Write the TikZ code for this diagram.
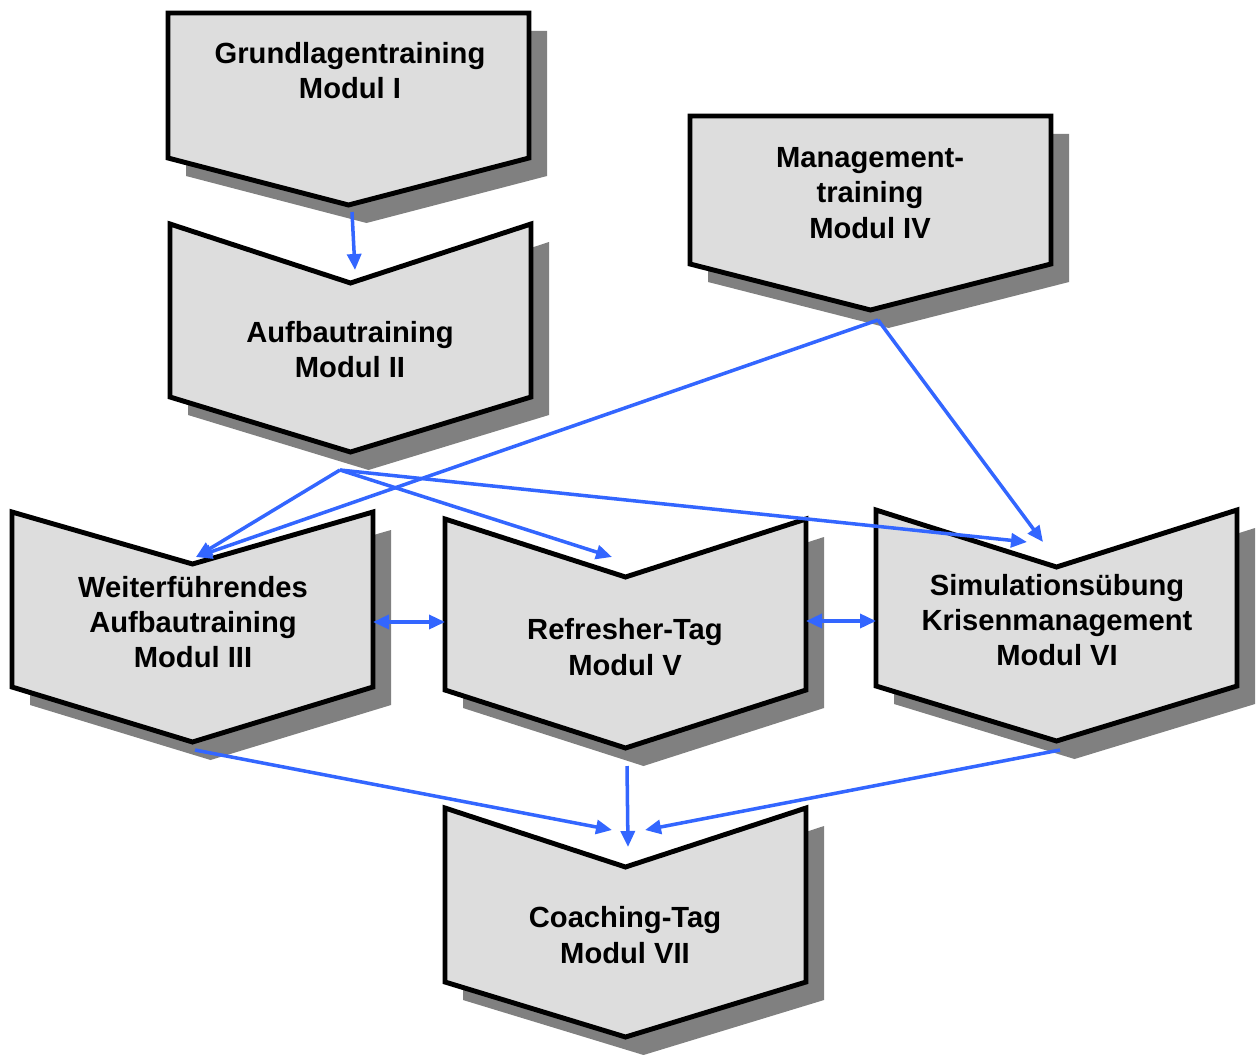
\documentclass[tikz,border=0pt]{standalone}
\usepackage{fontspec}
\setmainfont{Liberation Sans}
\usetikzlibrary{arrows.meta}
\definecolor{linkblue}{RGB}{51,102,255}
\definecolor{boxgray}{RGB}{221,221,221}
\definecolor{shadowgray}{RGB}{128,128,128}
\tikzset{
    modbox/.style={draw=black,line width=2.8pt,fill=boxgray,line join=miter},
    modshadow/.style={fill=shadowgray},
    modtext/.style={align=center,font=\bfseries\fontsize{16.6}{20}\selectfont},
    link/.style={draw=linkblue,line width=2pt,-{Triangle[length=3.2mm,width=2.8mm]}},
    twolink/.style={link,{Triangle[length=3.2mm,width=2.8mm]}-{Triangle[length=3.2mm,width=2.8mm]}},
}
% chevron: left x, top y, notch depth, side height, tip depth
\newcommand{\modpath}[5]{(#1,#2) -- ++(180.5,#3) -- ++(180.5,-#3) -- ++(0,#4) -- ++(-180.5,#5) -- ++(-180.5,-#5) -- cycle}
\newcommand{\modul}[5]{%
    \fill[modshadow,shift={(18,18)}] \modpath{#1}{#2}{#3}{#4}{#5};
    \draw[modbox] \modpath{#1}{#2}{#3}{#4}{#5};
}

\begin{document}
\begin{tikzpicture}[x=0.02cm,y=-0.02cm]
\useasboundingbox (0,0) rectangle (1256,1054);
% boxes
\modul{168}{13}{0}{145}{47}
\modul{170}{224}{59}{173}{55}
\modul{690}{116}{0}{148}{46}
\modul{12}{512}{52}{175}{55}
\modul{445}{519}{58}{171}{58}
\modul{876}{510}{57}{176}{55}
\modul{445}{808}{59}{174}{55}
\node[modtext] (mod1) at (350,71) {Grundlagentraining\\Modul I};
\node[modtext] (mod2) at (350,350) {Aufbautraining\\Modul II};
\node[modtext] (mod4) at (870,193) {Management-\\training\\Modul IV};
\node[modtext] (mod3) at (193,622) {Weiterführendes\\Aufbautraining\\Modul III};
\node[modtext] (mod5) at (625,647) {Refresher-Tag\\Modul V};
\node[modtext] (mod6) at (1057,620) {Simulationsübung\\Krisenmanagement\\Modul VI};
\node[modtext] (mod7) at (625,935) {Coaching-Tag\\Modul VII};
% link ends
\coordinate (mod1out) at (352,212);
\coordinate (mod2in) at (355,270);
\coordinate (mod2hub) at (340,470);
\coordinate (mod4hub) at (878,320);
\coordinate (mod3in) at (196,557);
\coordinate (mod5in) at (612,557);
\coordinate (mod6ina) at (1027,542);
\coordinate (mod6inb) at (1043,542);
\coordinate (mod3right) at (373,622);
\coordinate (mod5left) at (445,622);
\coordinate (mod5right) at (806,621);
\coordinate (mod6left) at (876,621);
\coordinate (mod3out) at (195,750);
\coordinate (mod5out) at (627,766);
\coordinate (mod6out) at (1060,750);
\coordinate (mod7ina) at (612,830);
\coordinate (mod7inb) at (628,847);
\coordinate (mod7inc) at (645,830);
% links
\draw[link] (mod1out) -- (mod2in);
\draw[link] (mod2hub) -- (mod3in);
\draw[link] (mod2hub) -- (mod5in);
\draw[link] (mod2hub) -- (mod6ina);
\draw[link] (mod4hub) -- (mod3in);
\draw[link] (mod4hub) -- (mod6inb);
\draw[twolink] (mod3right) -- (mod5left);
\draw[twolink] (mod5right) -- (mod6left);
\draw[link] (mod3out) -- (mod7ina);
\draw[link] (mod5out) -- (mod7inb);
\draw[link] (mod6out) -- (mod7inc);
\end{tikzpicture}
\end{document}
